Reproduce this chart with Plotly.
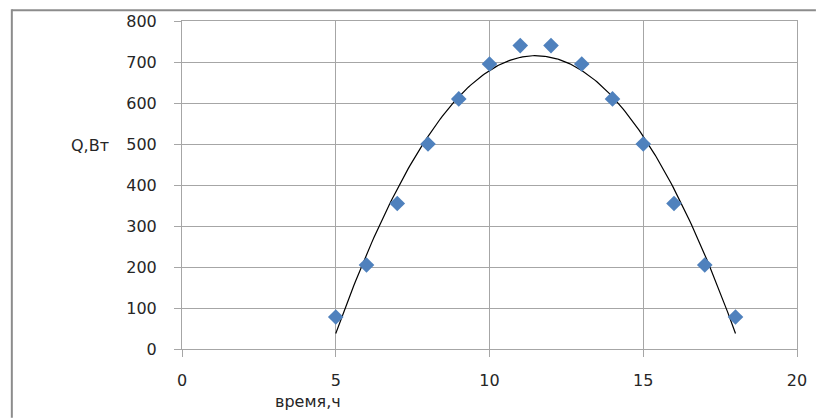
import numpy as np
import plotly.graph_objects as go

hours = [5, 6, 7, 8, 9, 10, 11, 12, 13, 14, 15, 16, 17, 18]
q_watts = [78, 205, 355, 500, 610, 695, 740, 740, 695, 610, 500, 355, 205, 78]
x_title = "время,ч"
y_title = "Q,Вт"

# Second-order polynomial trendline fitted to the data
coef = np.polyfit(hours, q_watts, 2)
xf = np.linspace(min(hours), max(hours), 200)
yf = np.polyval(coef, xf)

W, H = 819, 419
L, R, T, B = 182, 19, 15, 70
pw, ph = W - L - R, H - T - B

def px(xpix):
    return (xpix - L) / pw

def py(ypix):
    return (H - B - ypix) / ph

grid = "#a6a6a6"
txt = "#262626"
font = "DejaVu Sans"
fs = 16

fig = go.Figure()
fig.add_trace(go.Scatter(x=xf, y=yf, mode="lines",
                         line=dict(color="black", width=1.2), hoverinfo="skip"))
fig.add_trace(go.Scatter(x=hours, y=q_watts, mode="markers",
                         marker=dict(symbol="diamond", size=12, color="#4f81bd",
                                     line=dict(width=0))))

fig.update_layout(
    width=W, height=H,
    margin=dict(l=L, r=R, t=T, b=B, pad=0),
    paper_bgcolor="white", plot_bgcolor="white",
    showlegend=False,
    font=dict(family=font, size=fs, color=txt),
    xaxis=dict(range=[0, 20], dtick=5, tick0=0, showgrid=True, gridcolor=grid,
               gridwidth=1, zeroline=False, showline=True, linecolor=grid,
               linewidth=1, mirror=True, ticks="outside", ticklen=7,
               tickcolor=grid, ticklabelstandoff=10,
               tickfont=dict(family=font, size=fs, color=txt)),
    yaxis=dict(range=[0, 800], dtick=100, tick0=0, showgrid=True, gridcolor=grid,
               gridwidth=1, zeroline=False, showline=True, linecolor=grid,
               linewidth=1, mirror=True, ticks="outside", ticklen=7,
               tickcolor=grid, ticklabelstandoff=14,
               tickfont=dict(family=font, size=fs, color=txt)),
    annotations=[
        dict(text=x_title, xref="paper", yref="paper", x=px(309), y=py(402),
             showarrow=False, xanchor="center", yanchor="middle",
             font=dict(family=font, size=fs, color=txt)),
        dict(text=y_title, xref="paper", yref="paper", x=px(90), y=py(142),
             showarrow=False, xanchor="center", yanchor="middle",
             font=dict(family=font, size=fs, color=txt)),
    ],
    shapes=[
        dict(type="line", xref="paper", yref="paper", x0=px(11), x1=px(819),
             y0=py(4), y1=py(4), line=dict(color="#8c8c8c", width=2)),
        dict(type="line", xref="paper", yref="paper", x0=px(11), x1=px(11),
             y0=py(3), y1=py(419), line=dict(color="#8c8c8c", width=2)),
    ],
)

fig.write_html("out.html",
               config={"displayModeBar": False},
               post_script="document.body.style.margin='0';document.body.style.overflow='hidden';")
